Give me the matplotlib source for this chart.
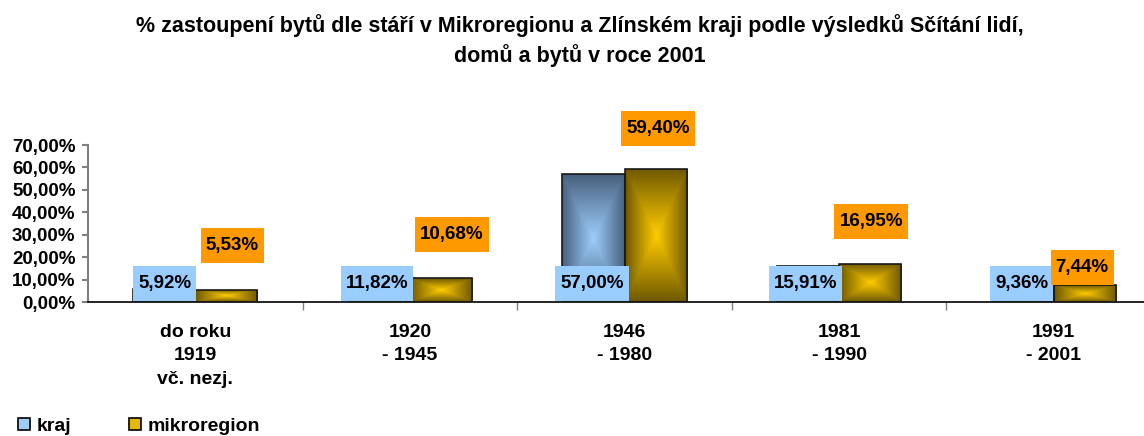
import numpy as np
import matplotlib
matplotlib.use('Agg')
import matplotlib.pyplot as plt
from matplotlib.colors import LinearSegmentedColormap
from matplotlib.patches import Patch, Rectangle

# data
categories = ['do roku\n1919\nvč. nezj.', '1920\n- 1945', '1946\n- 1980', '1981\n- 1990', '1991\n- 2001']
kraj = [5.92, 11.82, 57.00, 15.91, 9.36]
mikroregion = [5.53, 10.68, 59.40, 16.95, 7.44]
series_names = ['kraj', 'mikroregion']

# where the label boxes sit in the original (x offset from bar centre, y in axis %)
kraj_label_dx = [0.003, -0.008, -0.006, -0.012, -0.005]
kraj_label_y = [8.2, 8.2, 8.2, 8.2, 8.2]
mikro_label_dx = [0.029, 0.052, 0.012, 0.005, -0.012]
mikro_label_y = [25.2, 30.1, 77.4, 35.9, 15.4]

plt.rcParams['font.family'] = ['Liberation Sans', 'DejaVu Sans']
plt.rcParams['font.weight'] = 'bold'

BLUE_EDGE, BLUE_MID = '#48607e', '#9ccdfb'
GOLD_EDGE, GOLD_MID = '#6e5800', '#ffcc00'


def fmt(v):
    return f'{v:.2f}%'.replace('.', ',')


def gradient_fill(ax, bar, c_edge, c_mid):
    """Rectangular 'from centre' gradient like the Excel fill."""
    x0, y0 = bar.get_x(), bar.get_y()
    w, h = bar.get_width(), bar.get_height()
    n = 200
    u = np.linspace(-1, 1, n)
    U, V = np.meshgrid(u, u)
    d = np.maximum(np.abs(U), np.abs(V))
    cmap = LinearSegmentedColormap.from_list('g', [c_mid, c_edge])
    im = ax.imshow(d, cmap=cmap, extent=[x0, x0 + w, y0, y0 + h],
                   aspect='auto', origin='lower', zorder=2, vmin=0, vmax=1)
    im.set_clip_path(bar)


fig = plt.figure(figsize=(11.44, 4.36), dpi=100)
# the plot area runs a little past the right edge, as in the cropped original
ax = fig.add_axes([0.0769, 0.3073, 0.938, 0.3601])

x = np.arange(len(categories))
bw = 0.289
bars_k = ax.bar(x - bw / 2, kraj, bw, facecolor='none', edgecolor='#1a1a1a', linewidth=1.2, zorder=3)
bars_m = ax.bar(x + bw / 2, mikroregion, bw, facecolor='none', edgecolor='#1a1a1a', linewidth=1.2, zorder=3)
for b in bars_k:
    gradient_fill(ax, b, BLUE_EDGE, BLUE_MID)
for b in bars_m:
    gradient_fill(ax, b, GOLD_EDGE, GOLD_MID)

ax.set_xlim(-0.5, len(categories) - 0.5)
ax.set_ylim(0, 70)

labels = []
for i in range(len(categories)):
    t = ax.text(x[i] - bw / 2 + kraj_label_dx[i], kraj_label_y[i], fmt(kraj[i]),
                ha='center', va='center', fontsize=13.5, fontweight='bold', zorder=6)
    labels.append((t, '#99ccff'))
    t = ax.text(x[i] + bw / 2 + mikro_label_dx[i], mikro_label_y[i], fmt(mikroregion[i]),
                ha='center', va='center', fontsize=13.5, fontweight='bold', zorder=6)
    labels.append((t, '#ff9900'))

ax.set_yticks(np.arange(0, 71, 10))
ax.set_yticklabels([fmt(v) for v in np.arange(0, 71, 10)], fontsize=13.5, fontweight='bold')
ax.set_xticks(x)
ax.set_xticklabels(categories, fontsize=14, fontweight='bold', linespacing=1.48)
ax.set_xticks(np.arange(0.5, len(categories) - 0.5, 1), minor=True)
ax.tick_params(axis='x', which='major', length=0, pad=16)
ax.tick_params(axis='x', which='minor', length=6, color='#808080', width=1)
ax.tick_params(axis='y', length=4, color='#808080', width=1.5, pad=5)

for s in ['top', 'right']:
    ax.spines[s].set_visible(False)
ax.spines['left'].set_color('#808080')
ax.spines['left'].set_linewidth(1.5)
ax.spines['bottom'].set_color('black')
ax.spines['bottom'].set_linewidth(1.2)

fig.text(0.507, 0.968, '% zastoupení bytů dle stáří v Mikroregionu a Zlínském kraji podle výsledků Sčítání lidí,\n'
         'domů a bytů v roce 2001', ha='center', va='top', fontsize=15.5, fontweight='bold',
         linespacing=1.4)

handles = [Patch(facecolor=BLUE_MID, edgecolor='black', linewidth=1.2),
           Patch(facecolor='#e6b800', edgecolor='black', linewidth=1.2)]
fig.legend(handles, series_names, loc='center left', bbox_to_anchor=(0.0157, 0.022), ncol=2,
           frameon=False, handlelength=0.6, handleheight=0.6, borderpad=0, borderaxespad=0,
           handletextpad=0.35, columnspacing=3.0, prop={'weight': 'bold', 'size': 14})

# boxes behind data labels: fixed 35 px tall, text width + 10 px
fig.canvas.draw()
renderer = fig.canvas.get_renderer()
inv = ax.transData.inverted()
for t, col in labels:
    bb = t.get_window_extent(renderer)
    cx, cy = (bb.x0 + bb.x1) / 2, (bb.y0 + bb.y1) / 2
    w, h = bb.width + 10, 35
    (dx0, dy0) = inv.transform((cx - w / 2, cy - h / 2))
    (dx1, dy1) = inv.transform((cx + w / 2, cy + h / 2))
    ax.add_patch(Rectangle((dx0, dy0), dx1 - dx0, dy1 - dy0, facecolor=col,
                           edgecolor='none', zorder=5, clip_on=False))

fig.savefig('out.png', dpi=100, facecolor='white')
